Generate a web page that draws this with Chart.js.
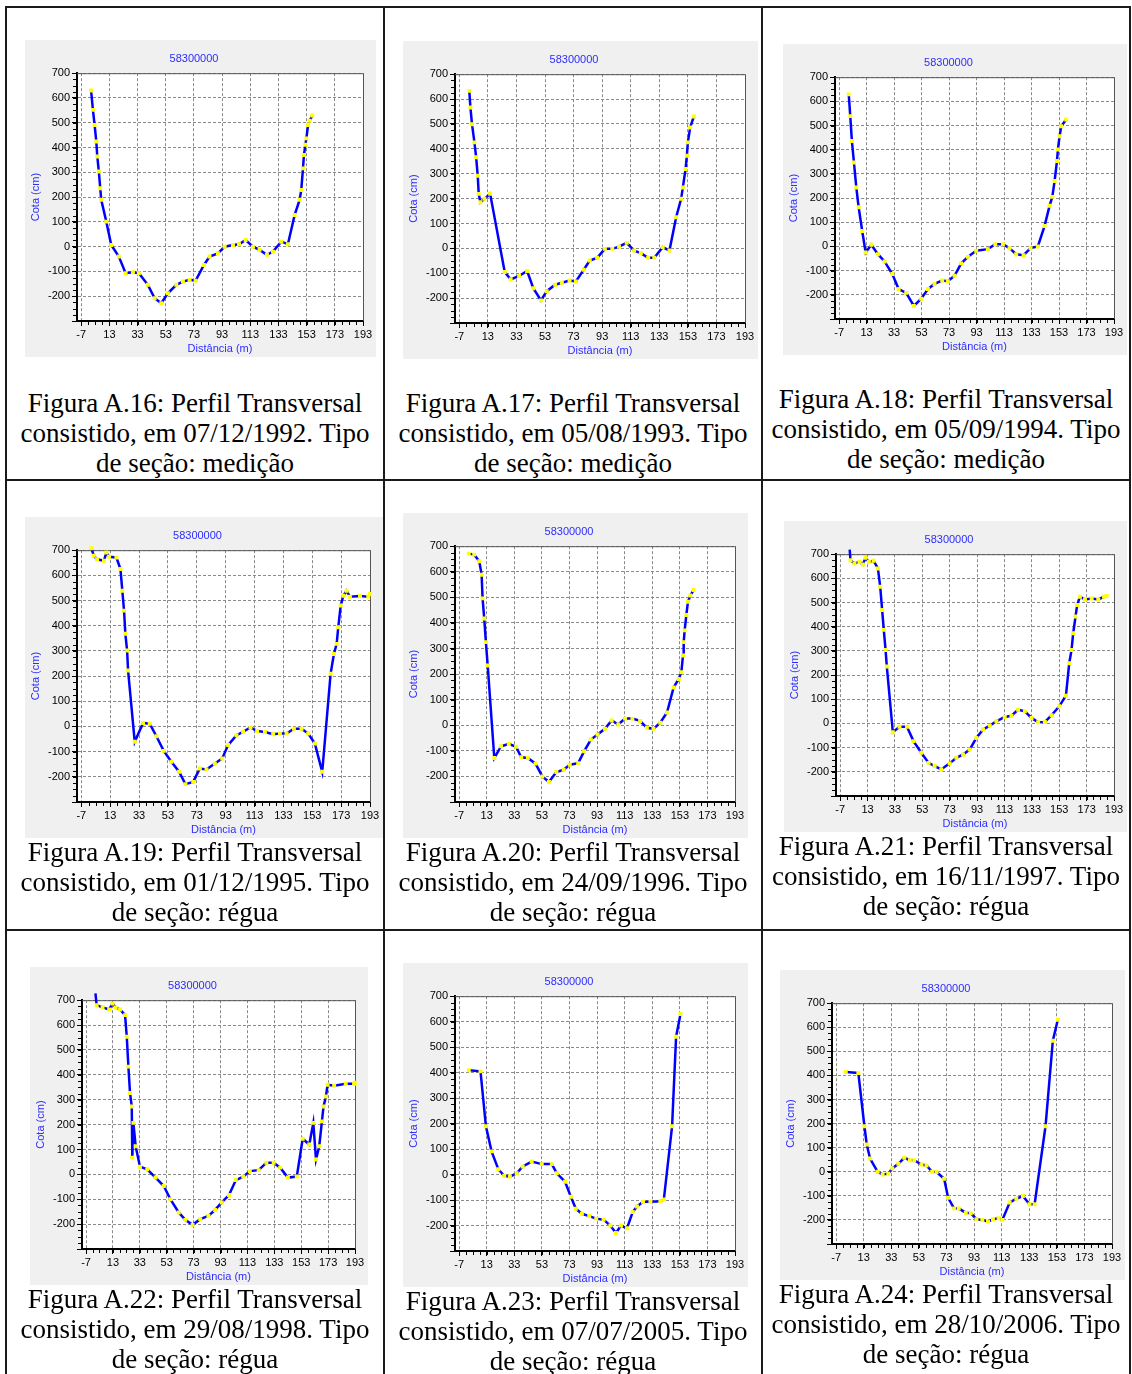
<!doctype html>
<html>
<head>
  <meta charset="utf-8" />
  <title>Perfis Transversais - 58300000</title>
  <style>
    html, body { margin: 0; padding: 0; background: #fff; }
    body { position: relative; width: 1132px; height: 1374px; overflow: hidden; font-family: "Liberation Serif", "Times New Roman", serif; }
    .rule { position: absolute; background: #1a1a1a; }
    .panel { position: absolute; background: #f0f0f0; }
    .panel canvas { display: block; }
    .caption { position: absolute; text-align: center; font-size: 27px; line-height: 30px; color: #000; white-space: nowrap; }
  </style>
  <script src="https://cdn.jsdelivr.net/npm/chart.js@4"></script>
</head>
<body>
  <div id="sheet"></div>
  <script>
    // eixos (iguais em todos os perfis)
    const xTicks = [-7, 13, 33, 53, 73, 93, 113, 133, 153, 173, 193];
    const yTicks = [-300, -200, -100, 0, 100, 200, 300, 400, 500, 600, 700];
    const station = '58300000';

    // legendas das figuras
    const figNumbers = ['A.16', 'A.17', 'A.18', 'A.19', 'A.20', 'A.21', 'A.22', 'A.23', 'A.24'];
    const figDates = ['07/12/1992', '05/08/1993', '05/09/1994', '01/12/1995', '24/09/1996', '16/11/1997', '29/08/1998', '07/07/2005', '28/10/2006'];
    const figTypes = ['medição', 'medição', 'medição', 'régua', 'régua', 'régua', 'régua', 'régua', 'régua'];

    // perfis: distância (m) e cota (cm)
    const distA16 = [0, 1.3, 2.5, 3.7, 4.4, 5.5, 6.5, 7.2, 10.8, 14.3, 19.7, 24.5, 29.7, 33.9, 40.3, 45.1, 49.8, 54.5, 60.5, 65.2, 69.9, 74.2, 80.1, 84.1, 90, 94.8, 100.7, 105, 109.7, 114.9, 119.6, 124.8, 129.1, 135, 139.7, 144.5, 148, 149.2, 150.4, 151.1, 152.1, 152.8, 154, 155.1, 157];
    const cotaA16 = [630, 552, 491, 424, 364, 303, 236, 189, 101, 7, -40, -107, -103, -107, -154, -208, -228, -188, -154, -141, -134, -137, -74, -40, -27, 0, 7, 10, 27, 0, -13, -33, -20, 20, 10, 128, 189, 229, 316, 370, 411, 437, 491, 508, 529];

    const distA17 = [0, 0.8, 1.9, 3.6, 4.8, 5.9, 6.6, 7.8, 10.6, 14.6, 24.8, 29, 34.9, 40.5, 44.8, 50.2, 54.2, 60.1, 64.8, 70.2, 74.6, 80.1, 84.3, 89.5, 94.9, 100.1, 104.8, 110.2, 115.4, 120.1, 125.2, 129.5, 135.4, 140.1, 144.8, 148.3, 149.5, 151.4, 152.3, 153, 154.6, 157.2];
    const cotaA17 = [633, 566, 499, 426, 366, 292, 219, 185, 199, 219, -95, -125, -111, -91, -160, -209, -172, -146, -138, -129, -133, -86, -49, -38, -2, -2, 7, 22, -9, -19, -38, -38, 5, -9, 125, 199, 245, 319, 372, 426, 486, 530];

    const distA18 = [0, 1.1, 2.3, 3.8, 5.5, 7.2, 9.8, 12.3, 16.4, 21.2, 26.1, 31.7, 36.3, 41.8, 47.4, 52.7, 57.6, 62.4, 68, 72.1, 77, 81.8, 86.7, 92.7, 101.2, 106.6, 112.2, 117, 121.8, 127.2, 132.3, 137.6, 142.5, 146.1, 148.1, 149.8, 151.5, 152.2, 153.4, 154.6, 158.2];
    const cotaA18 = [629, 539, 436, 347, 244, 162, 64, -25, 7, -32, -62, -114, -176, -192, -246, -216, -176, -155, -141, -144, -121, -70, -43, -18, -11, 9, 9, -7, -32, -36, -7, 0, 85, 168, 205, 271, 353, 401, 456, 497, 525];

    const distA19 = [0, 1.6, 3.9, 8.7, 10.3, 12.2, 17.3, 20.1, 21.4, 22.6, 23.5, 24.7, 25.4, 30, 35.8, 40.4, 45, 50.1, 55.4, 60.7, 65.1, 70.5, 75.1, 79.7, 85.5, 90.6, 94.7, 100.5, 105.1, 110.2, 114.8, 120.2, 125.9, 130.6, 135.2, 140.3, 145.6, 150.2, 154.8, 159.9, 165.7, 168, 169.9, 171, 172.7, 174.5, 176.8, 179.1, 186.1, 191.8, 193];
    const cotaA19 = [708, 678, 664, 658, 691, 674, 671, 625, 539, 460, 368, 302, 222, -61, 14, 11, -39, -97, -140, -180, -229, -220, -167, -171, -147, -127, -74, -35, -21, -4, -18, -22, -31, -28, -28, -9, -9, -28, -68, -180, 209, 288, 328, 394, 480, 519, 539, 515, 518, 515, 526];

    const distA20 = [0, 3.9, 7.6, 9.3, 10, 11.2, 12.4, 13.7, 18.5, 23.4, 29, 34.3, 38, 42.8, 48.4, 53.3, 58.1, 63.5, 68.8, 73.2, 79.3, 83.6, 88.5, 93.4, 98.7, 103.6, 108.4, 113.3, 118.6, 124.2, 129.1, 133.9, 138.8, 143.7, 148.5, 152.2, 154.1, 155.3, 155.8, 156.5, 157.7, 158.9, 160.6, 163.1];
    const cotaA20 = [671, 667, 641, 588, 496, 417, 325, 234, -128, -82, -73, -84, -125, -128, -150, -200, -222, -183, -174, -154, -148, -102, -56, -36, -14, 19, 3, 26, 26, 17, -10, -14, 10, 50, 148, 181, 207, 273, 325, 371, 431, 483, 507, 529];

    const distA21 = [0, 0.6, 3.5, 7.1, 9.6, 11.5, 14, 17.4, 20.6, 22.3, 23.7, 24.9, 26.2, 27.1, 31.5, 36.4, 41.8, 46.6, 52.3, 57.6, 62, 66.9, 73, 77.9, 82.8, 87.6, 92.5, 97.4, 102.3, 107.1, 113.2, 118.1, 123, 127.9, 132.8, 137.6, 142.5, 147.4, 153, 157.9, 160.3, 162, 163.2, 164.9, 166.1, 168.1, 171.8, 176.7, 181.5, 185.7, 187.6];
    const cotaA21 = [719, 675, 662, 668, 657, 685, 668, 673, 641, 565, 469, 387, 304, 236, -36, -14, -14, -73, -121, -163, -176, -190, -165, -142, -128, -108, -60, -25, -9, 9, 27, 32, 57, 50, 23, 5, 6, 34, 71, 115, 249, 304, 373, 442, 490, 524, 513, 517, 513, 524, 527];

    const distA22 = [0, 0.9, 5.3, 10.2, 12.7, 15.1, 18.3, 22, 23.3, 24.5, 25.7, 27, 27.4, 28.2, 29.9, 33.1, 38.5, 44.7, 50.8, 55.7, 61.9, 66.8, 72.2, 77.9, 84, 89, 93.9, 99.3, 104.4, 109.9, 114.8, 121.4, 127.1, 132.5, 137.4, 143.1, 149.7, 154.1, 159, 162, 164, 166.4, 168.4, 169.6, 171.4, 172.6, 177.5, 186.1, 192.3, 193];
    const cotaA22 = [727, 680, 671, 663, 687, 671, 663, 640, 553, 433, 327, 273, 67, 207, 113, 31, 20, -13, -47, -100, -153, -183, -203, -180, -167, -143, -113, -83, -23, -9, 13, 17, 47, 47, 27, -13, -9, 143, 120, 207, 60, 113, 213, 273, 313, 360, 356, 364, 364, 368];

    const distA23 = [0, 8.5, 12.4, 16.5, 21.4, 25.7, 29.8, 34.7, 39.1, 45.6, 52.9, 60.2, 63.8, 69.8, 74, 77.6, 82, 87.3, 92.4, 97.7, 102.6, 106.7, 110.3, 114.7, 118.8, 122, 126.3, 131.7, 138.9, 141.4, 147.4, 150.3, 153.5];
    const cotaA23 = [409, 405, 190, 91, 21, -5, -8, 5, 32, 51, 41, 41, 5, -28, -87, -134, -154, -163, -173, -177, -200, -229, -200, -211, -147, -125, -107, -107, -105, -98, 190, 541, 630];

    const distA24 = [0, 9.1, 13.5, 15.2, 17.6, 23.1, 26.7, 30.8, 33.7, 38.1, 42.4, 46.5, 49.6, 54.9, 58.5, 62.6, 65.8, 71.3, 74.2, 78.5, 81.9, 87, 90.6, 94.7, 99, 103.1, 106.7, 110.8, 113.5, 118.8, 123.6, 128.4, 133.2, 136.9, 144.8, 150.1, 153.7];
    const cotaA24 = [414, 410, 189, 113, 55, 0, -11, -8, 14, 33, 58, 48, 48, 30, 26, 0, -1, -29, -108, -152, -153, -170, -172, -197, -200, -207, -197, -193, -200, -128, -112, -101, -135, -135, 189, 544, 631];

    const profiles = [
      [distA16, cotaA16], [distA17, cotaA17], [distA18, cotaA18],
      [distA19, cotaA19], [distA20, cotaA20], [distA21, cotaA21],
      [distA22, cotaA22], [distA23, cotaA23], [distA24, cotaA24],
    ];

    // layout da página (tabela 3x3)
    const panels = [
      { left: 25, top: 40, width: 351, height: 317, capTop: 388 },
      { left: 403, top: 41, width: 355, height: 318, capTop: 388 },
      { left: 783, top: 44, width: 344, height: 311, capTop: 384 },
      { left: 25, top: 517, width: 358, height: 321, capTop: 837 },
      { left: 403, top: 513, width: 345, height: 325, capTop: 837 },
      { left: 784, top: 521, width: 343, height: 311, capTop: 831 },
      { left: 30, top: 967, width: 338, height: 318, capTop: 1284 },
      { left: 403, top: 963, width: 345, height: 324, capTop: 1286 },
      { left: 780, top: 970, width: 345, height: 310, capTop: 1279 },
    ];
    const colLeft = [6, 384, 762];
    const colWidth = [378, 378, 368];
    const rowLines = [7, 480, 930];

    const sheet = document.getElementById('sheet');
    function rule(left, top, width, height) {
      const d = document.createElement('div');
      d.className = 'rule';
      Object.assign(d.style, { left: left + 'px', top: top + 'px', width: width + 'px', height: height + 'px' });
      sheet.appendChild(d);
    }
    for (const x of [5, 383, 761, 1129]) rule(x, 6, 2, 1374);
    for (const y of rowLines) rule(5, y - 1, 1126, 2);

    const BLUE_TXT = '#2d2dff';
    Chart.defaults.font.family = '"Liberation Sans", Arial, sans-serif';
    Chart.defaults.font.size = 11;

    const plotDecor = {
      id: 'plotDecor',
      beforeDraw(chart) {
        const { ctx, chartArea: a } = chart;
        ctx.save();
        ctx.fillStyle = '#fff';
        ctx.fillRect(a.left, a.top, a.right - a.left, a.bottom - a.top);
        ctx.restore();
      },
      beforeDatasetsDraw(chart) {
        const { ctx, chartArea: a, scales } = chart;
        ctx.save();
        ctx.strokeStyle = '#555';
        ctx.lineWidth = 1;
        ctx.beginPath();
        ctx.moveTo(a.left, a.top + 0.5);
        ctx.lineTo(a.right + 0.5, a.top + 0.5);
        ctx.lineTo(a.right + 0.5, a.bottom);
        ctx.stroke();
        // marcas menores
        ctx.strokeStyle = '#000';
        ctx.beginPath();
        for (let v = -300; v <= 700; v += 25) {
          const py = Math.round(scales.y.getPixelForValue(v)) + 0.5;
          ctx.moveTo(a.left - 4, py); ctx.lineTo(a.left - 1, py);
        }
        for (let v = -7; v <= 193; v += 5) {
          const px = Math.round(scales.x.getPixelForValue(v)) + 0.5;
          ctx.moveTo(px, a.bottom + 1); ctx.lineTo(px, a.bottom + 4);
        }
        ctx.stroke();
        ctx.restore();
      }
    };

    panels.forEach((p, i) => {
      const box = document.createElement('div');
      box.className = 'panel';
      Object.assign(box.style, { left: p.left + 'px', top: p.top + 'px', width: p.width + 'px', height: p.height + 'px' });
      const canvas = document.createElement('canvas');
      canvas.width = p.width;
      canvas.height = p.height;
      box.appendChild(canvas);
      sheet.appendChild(box);

      const col = i % 3;
      const cap = document.createElement('div');
      cap.className = 'caption';
      Object.assign(cap.style, { left: colLeft[col] + 'px', width: colWidth[col] + 'px', top: p.capTop + 'px' });
      cap.innerHTML = 'Figura ' + figNumbers[i] + ': Perfil Transversal<br>consistido, em ' + figDates[i] + '. Tipo<br>de seção: ' + figTypes[i];
      sheet.appendChild(cap);

      const [dist, cota] = profiles[i];
      new Chart(canvas, {
        type: 'line',
        data: {
          datasets: [{
            data: dist.map((d, k) => ({ x: d, y: cota[k] })),
            borderColor: '#0000ff',
            borderWidth: 2.5,
            tension: 0,
            pointStyle: 'rect',
            pointRadius: 2.8,
            pointBackgroundColor: '#ffff00',
            pointBorderWidth: 0,
            clip: 8,
          }]
        },
        options: {
          responsive: false,
          animation: false,
          devicePixelRatio: 1,
          layout: { padding: { left: 0, right: 13, top: 0, bottom: 0 } },
          plugins: {
            legend: { display: false },
            tooltip: { enabled: false },
            title: { display: true, text: station, color: BLUE_TXT, font: { size: 11, weight: 'normal' }, padding: { top: 12, bottom: 8 } },
          },
          scales: {
            x: {
              type: 'linear', min: -10, max: 193,
              afterBuildTicks: s => { s.ticks = xTicks.map(v => ({ value: v })); },
              afterFit: s => { s.height = 36; },
              ticks: { color: '#000', padding: 2, maxRotation: 0, autoSkip: false, callback: v => String(v) },
              grid: { color: '#8a8a8a', tickColor: '#000', tickLength: 5 },
              border: { color: '#000', width: 2, dash: [3, 2] },
              title: { display: true, text: 'Distância (m)', color: BLUE_TXT, padding: { top: 0, bottom: 1 } },
            },
            y: {
              min: -300, max: 700,
              afterBuildTicks: s => { s.ticks = yTicks.map(v => ({ value: v })); },
              afterFit: s => { s.width = 52; },
              ticks: { color: '#000', padding: 2, callback: v => (v === -300 ? '' : String(v)) },
              grid: { color: '#8a8a8a', tickColor: '#000', tickLength: 5 },
              border: { color: '#000', width: 2, dash: [3, 2] },
              title: { display: true, text: 'Cota (cm)', color: BLUE_TXT, padding: { top: 4, bottom: 0 } },
            },
          },
        },
        plugins: [plotDecor],
      });
    });
  </script>
</body>
</html>
